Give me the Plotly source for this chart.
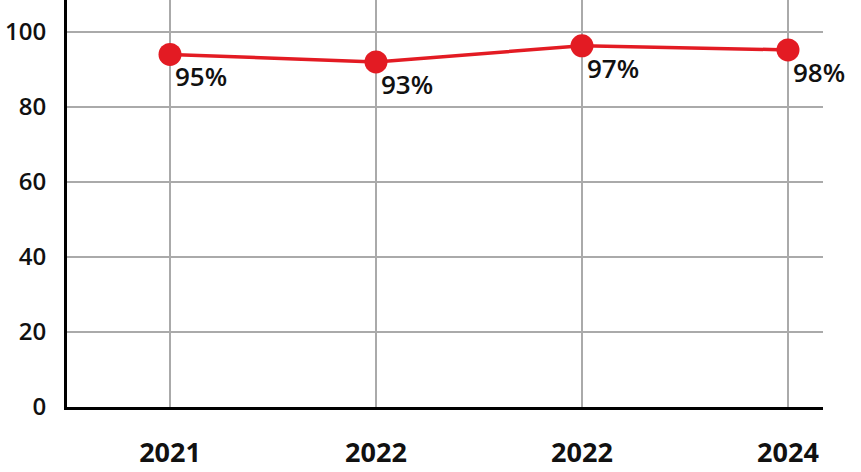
import plotly.graph_objects as go

categories = ["2021", "2022", "2022", "2024"]
values = [94.0, 92.0, 96.3, 95.2]
labels = ["95%", "93%", "97%", "98%"]
y_ticks = [0, 20, 40, 60, 80, 100]

x_pos = list(range(len(categories)))
red = "#e31b23"

fig = go.Figure()
fig.add_trace(go.Scatter(
    x=x_pos, y=values, mode="lines+markers",
    line=dict(color=red, width=3.5),
    marker=dict(color=red, size=23),
    showlegend=False, hoverinfo="skip", cliponaxis=False,
))
for xi, v, t in zip(x_pos, values, labels):
    fig.add_annotation(x=xi, y=v, text=t, showarrow=False,
                       xanchor="left", yanchor="middle",
                       xshift=3, yshift=-22,
                       font=dict(family="Open Sans", size=26, color="#111", weight=600))

fig.update_layout(
    width=861, height=472,
    margin=dict(l=67, r=38, t=0, b=65),
    paper_bgcolor="white", plot_bgcolor="white",
    font=dict(family="Open Sans", size=22, color="#111", weight=600),
    xaxis=dict(
        range=[-0.5, 3.17], tickmode="array", tickvals=x_pos, ticktext=categories,
        showgrid=True, gridcolor="#aaaaaa", gridwidth=2,
        showline=True, linecolor="black", linewidth=3,
        ticks="outside", ticklen=20, tickcolor="rgba(0,0,0,0)",
        zeroline=False, tickfont=dict(size=27, weight=700), automargin=False,
    ),
    yaxis=dict(
        range=[0, 108.5], tickmode="array", tickvals=y_ticks,
        showgrid=True, gridcolor="#aaaaaa", gridwidth=2,
        showline=True, linecolor="black", linewidth=3,
        ticks="outside", ticklen=13, tickcolor="rgba(0,0,0,0)",
        zeroline=False, tickfont=dict(size=24, weight=600), automargin=False,
    ),
)
fig.write_html("out.html", config={"displayModeBar": False},
               post_script="document.body.style.margin='0';")
